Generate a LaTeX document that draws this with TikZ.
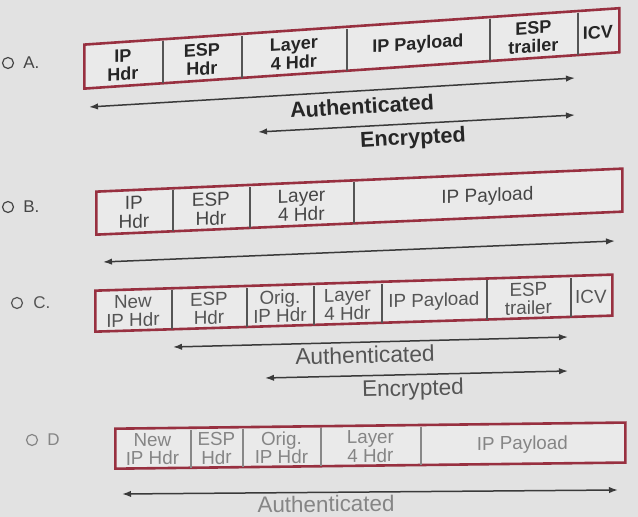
\documentclass[tikz,border=0pt]{standalone}
\usepackage{fontspec}
\setmainfont{Liberation Sans}
\usetikzlibrary{arrows.meta}
\definecolor{bg}{HTML}{E2E2E2}
\definecolor{cellbg}{HTML}{EAEAEA}
\definecolor{framec}{HTML}{983040}
\definecolor{divc}{HTML}{555555}
\definecolor{txtA}{HTML}{262626}
\definecolor{txtB}{HTML}{454545}
\definecolor{txtC}{HTML}{555555}
\definecolor{txtD}{HTML}{858585}
\definecolor{arrc}{HTML}{3A3A3A}
\begin{document}
\begin{tikzpicture}[x=0.5pt,y=-0.5pt,
  cell/.style={rectangle, inner sep=0pt, anchor=south west, minimum width=#1*0.5pt, align=center, transform shape},
  framebox/.style={rectangle, draw=framec, fill=cellbg, line width=1.3pt, inner sep=0pt, anchor=south west, transform shape},
  divider/.style={draw=divc, line width=0.9pt, shorten <=0.65pt, shorten >=0.65pt},
  span/.style={draw=arrc, line width=0.75pt, {Latex[length=4.5pt,width=3.2pt]}-{Latex[length=4.5pt,width=3.2pt]}},
  spanlabel/.style={inner sep=0pt},
  radio/.style={circle, draw=#1, line width=0.6pt, minimum size=5.5pt, inner sep=0pt},
  optlabel/.style={anchor=west, inner sep=0pt, font=\fontsize{8.5}{9}\selectfont},
]
\fill[bg] (0,0) rectangle (638,517);
\useasboundingbox (0,0) rectangle (638,517);

% ---------- Option labels ----------
\node[radio=txtB] (rA) at (8,63) {};
\node[optlabel, text=txtB] (tA) at (23,63) {A.};
\node[radio=txtB] (rB) at (8,207) {};
\node[optlabel, text=txtB] (tB) at (23,207) {B.};
\node[radio=txtC] (rC) at (17,303) {};
\node[optlabel, text=txtC] (tC) at (33,303) {C.};
\node[radio=txtD] (rD) at (32,440) {};
\node[optlabel, text=txtD] (tD) at (47,440) {D};

% ---------- Row A ----------
\begin{scope}[shift={(83,90)}, yslant=0.068, every node/.append style={minimum height=22pt},
  font=\bfseries\fontsize{9}{9.2}\selectfont, text=txtA]
  \node[framebox, minimum width=267.5pt] (fA) at (0,0) {};
  \node[cell=79]  (a1) at (0,0)   {IP\\Hdr};
  \node[cell=79]  (a2) at (79,0)  {ESP\\Hdr};
  \node[cell=105] (a3) at (158,0) {Layer\\4 Hdr};
  \node[cell=143] (a4) at (263,0) {IP Payload};
  \node[cell=88]  (a5) at (406,0) {ESP\\trailer};
  \node[cell=41]  (a6) at (494,0) {ICV};
  \foreach \c in {a1,a2,a3,a4,a5}{\draw[divider] (\c.south east) -- (\c.north east);}
\end{scope}
\coordinate (aAl) at (89,107);  \coordinate (aAr) at (575,78);
\coordinate (eAl) at (258,132); \coordinate (eAr) at (575,115);
\draw[span] (aAl) -- (aAr);
\draw[span] (eAl) -- (eAr);
\node[spanlabel, rotate=3.4, text=txtA, font=\bfseries\fontsize{10.8}{12}\selectfont] (lAa) at (362,106) {Authenticated};
\node[spanlabel, rotate=3.1, text=txtA, font=\bfseries\fontsize{10.8}{12}\selectfont] (lAe) at (413,139) {Encrypted};

% ---------- Row B ----------
\begin{scope}[shift={(95,236)}, yslant=0.0437, every node/.append style={minimum height=21.5pt},
  font=\fontsize{9.5}{9.4}\selectfont, text=txtB]
  \node[framebox, minimum width=263pt] (fB) at (0,0) {};
  \node[cell=77]  (b1) at (0,0)   {IP\\Hdr};
  \node[cell=77]  (b2) at (77,0)  {ESP\\Hdr};
  \node[cell=104] (b3) at (154,0) {Layer\\4 Hdr};
  \node[cell=268] (b4) at (258,0) {IP Payload};
  \foreach \c in {b1,b2,b3}{\draw[divider] (\c.south east) -- (\c.north east);}
\end{scope}
\coordinate (aBl) at (103,262); \coordinate (aBr) at (615,241);
\draw[span] (aBl) -- (aBr);

% ---------- Row C ----------
\begin{scope}[shift={(94,333)}, yslant=0.031, every node/.append style={minimum height=20.5pt},
  font=\fontsize{9.4}{9.2}\selectfont, text=txtC]
  \node[framebox, minimum width=258.5pt] (fC) at (0,0) {};
  \node[cell=77]  (c1) at (0,0)   {New\\IP Hdr};
  \node[cell=75]  (c2) at (77,0)  {ESP\\Hdr};
  \node[cell=67]  (c3) at (152,0) {Orig.\\IP Hdr};
  \node[cell=68]  (c4) at (219,0) {Layer\\4 Hdr};
  \node[cell=105] (c5) at (287,0) {IP Payload};
  \node[cell=84]  (c6) at (392,0) {ESP\\trailer};
  \node[cell=41]  (c7) at (476,0) {ICV};
  \foreach \c in {c1,c2,c3,c4,c5,c6}{\draw[divider] (\c.south east) -- (\c.north east);}
\end{scope}
\coordinate (aCl) at (173,347); \coordinate (aCr) at (568,337);
\coordinate (eCl) at (265,378); \coordinate (eCr) at (568,371);
\draw[span] (aCl) -- (aCr);
\draw[span] (eCl) -- (eCr);
\node[spanlabel, rotate=1.45, text=txtC, font=\fontsize{11.4}{13}\selectfont] (lCa) at (365,355) {Authenticated};
\node[spanlabel, rotate=1.3, text=txtC, font=\fontsize{11.3}{13}\selectfont] (lCe) at (413,390) {Encrypted};

% ---------- Row D ----------
\begin{scope}[shift={(114,470)}, yslant=0.012, every node/.append style={minimum height=20pt},
  font=\fontsize{9.4}{9.2}\selectfont, text=txtD]
  \node[framebox, minimum width=255pt] (fD) at (0,0) {};
  \node[cell=76]  (d1) at (0,0)   {New\\IP Hdr};
  \node[cell=52]  (d2) at (76,0)  {ESP\\Hdr};
  \node[cell=78]  (d3) at (128,0) {Orig.\\IP Hdr};
  \node[cell=100] (d4) at (206,0) {Layer\\4 Hdr};
  \node[cell=204] (d5) at (306,0) {IP Payload};
  \foreach \c in {d1,d2,d3,d4}{\draw[divider, draw=divc!70] (\c.south east) -- (\c.north east);}
\end{scope}
\coordinate (aDl) at (122,494); \coordinate (aDr) at (618,490);
\draw[span] (aDl) -- (aDr);
\node[spanlabel, rotate=0.46, text=txtD, font=\fontsize{11.2}{13}\selectfont] (lDa) at (326,504) {Authenticated};
\end{tikzpicture}
\end{document}
